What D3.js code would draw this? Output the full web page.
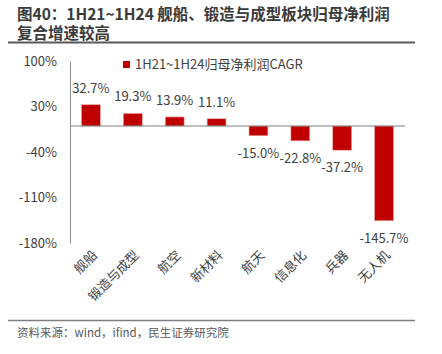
<!DOCTYPE html>
<html>
<head>
<meta charset="utf-8">
<script src="https://cdn.jsdelivr.net/npm/d3@7"></script>
<style>
  body { margin: 0; background: #fff; }
  svg { font-family: "Noto Sans CJK SC", "Noto Sans", sans-serif; }
</style>
</head>
<body>
<div class="chart"></div>
<script>
var categories = ["舰船", "锻造与成型", "航空", "新材料", "航天", "信息化", "兵器", "无人机"];
var cagr = [32.7, 19.3, 13.9, 11.1, -15.0, -22.8, -37.2, -145.7];
var yTicks = [100, 30, -40, -110, -180];
var seriesName = "1H21~1H24归母净利润CAGR";

var width = 442, height = 354;
var plot = { left: 70, right: 405, top: 61, bottom: 243 };

var svg = d3.select(".chart")
    .append("svg")
    .attr("width", width)
    .attr("height", height);

// title
svg.append("text")
    .attr("x", 17).attr("y", 20)
    .style("font-size", "15.5px").style("font-weight", "bold").style("fill", "#3a3a3a")
    .text("图40：1H21~1H24 舰船、锻造与成型板块归母净利润");
svg.append("text")
    .attr("x", 17).attr("y", 39)
    .style("font-size", "15.5px").style("font-weight", "bold").style("fill", "#3a3a3a")
    .text("复合增速较高");

svg.append("line")
    .attr("x1", 8).attr("x2", 415).attr("y1", 42.5).attr("y2", 42.5)
    .attr("stroke", "#595959").attr("stroke-width", 2);

svg.append("line")
    .attr("x1", 8).attr("x2", 415).attr("y1", 320.5).attr("y2", 320.5)
    .attr("stroke", "#7f7f7f").attr("stroke-width", 1.5);

svg.append("text")
    .attr("x", 17).attr("y", 337)
    .style("font-size", "11.5px").style("fill", "#595959")
    .text("资料来源：wind，ifind，民生证券研究院");

var x = d3.scaleBand()
    .domain(categories)
    .range([plot.left, plot.right])
    .paddingInner(0.55)
    .paddingOuter(0.275);

var y = d3.scaleLinear()
    .domain([-180, 100])
    .range([plot.bottom, plot.top]);

var yAxis = d3.axisLeft(y).tickValues(yTicks).tickSize(0).tickPadding(13)
    .tickFormat(function (d) { return d + "%"; });

var gy = svg.append("g")
    .attr("transform", "translate(" + plot.left + ",0)")
    .call(yAxis);
gy.select(".domain").attr("stroke", "#8c8c8c");
gy.selectAll("text")
    .style("font-size", "13px")
    .style("fill", "#404040")
    .style("font-family", "\"Noto Sans CJK SC\", sans-serif");

// bars
svg.selectAll(".bar")
    .data(cagr)
    .enter()
    .append("rect")
    .attr("class", "bar")
    .attr("x", function (d, i) { return x(categories[i]); })
    .attr("width", x.bandwidth())
    .attr("y", function (d) { return y(Math.max(d, 0)); })
    .attr("height", function (d) { return Math.abs(y(d) - y(0)); })
    .style("fill", "#c00000")
    .attr("stroke", "#e8a0a0")
    .attr("stroke-width", 0.6);

// zero line
svg.append("line")
    .attr("x1", plot.left).attr("x2", plot.right)
    .attr("y1", y(0)).attr("y2", y(0))
    .attr("stroke", "#7f7f7f").attr("stroke-width", 1);

// value labels
svg.selectAll(".val")
    .data(cagr)
    .enter()
    .append("text")
    .attr("class", "val")
    .attr("x", function (d, i) { return x(categories[i]) + x.bandwidth() / 2; })
    .attr("y", function (d) { return d >= 0 ? y(d) - 12 : y(d) + 22; })
    .style("text-anchor", "middle")
    .style("font-size", "13px")
    .style("fill", "#404040")
    .text(function (d) { return d.toFixed(1) + "%"; });

// category labels
svg.selectAll(".cat")
    .data(categories)
    .enter()
    .append("text")
    .attr("class", "cat")
    .attr("transform", function (d) {
        return "translate(" + (x(d) + x.bandwidth() / 2 + 7) + "," + 256 + ") rotate(-45)";
    })
    .style("text-anchor", "end")
    .style("font-size", "13px")
    .style("fill", "#404040")
    .text(function (d) { return d; });

// legend
svg.append("rect")
    .attr("x", 123).attr("y", 61).attr("width", 7).attr("height", 7)
    .style("fill", "#c00000");
svg.append("text")
    .attr("x", 135).attr("y", 69)
    .style("font-size", "13px")
    .style("fill", "#404040")
    .text(seriesName);
</script>
</body>
</html>
